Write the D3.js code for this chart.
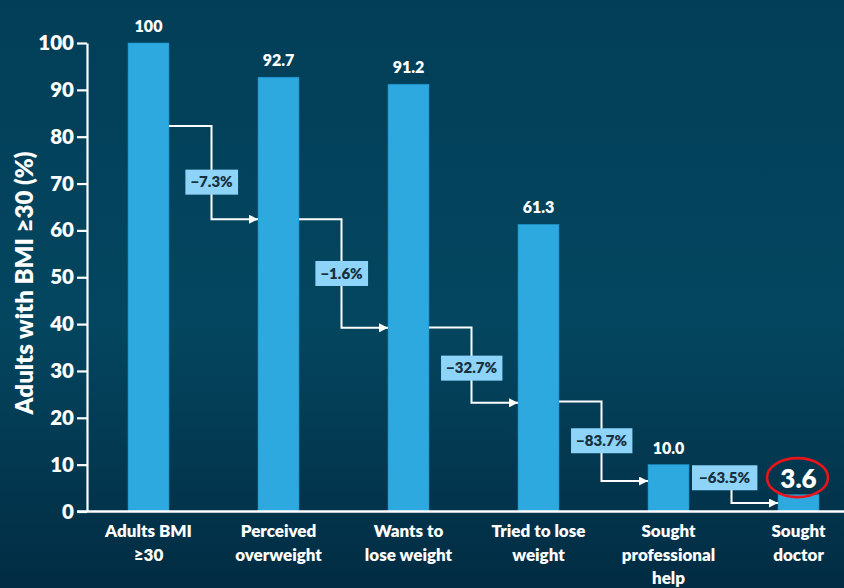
<!DOCTYPE html>
<html>
<head>
<meta charset="utf-8">
<script src="https://cdn.jsdelivr.net/npm/d3@7"></script>
<style>
  html, body { margin: 0; padding: 0; background: #033f59; }
  svg { display: block; }
  text { font-family: Lato, "Open Sans", sans-serif; font-weight: 800; }
</style>
</head>
<body>
<script>

// Categories (one entry per line of the axis label)
const categories = [
    ["Adults BMI", "≥30"],
    ["Perceived", "overweight"],
    ["Wants to", "lose weight"],
    ["Tried to lose", "weight"],
    ["Sought", "professional", "help"],
    ["Sought", "doctor"]
];

// Share of adults with BMI >= 30 (%)
const values = [100, 92.7, 91.2, 61.3, 10.0, 3.6];
const valueLabels = ["100", "92.7", "91.2", "61.3", "10.0", "3.6"];

// Relative change between consecutive steps
const changes = ["\u22127.3%", "\u22121.6%", "\u221232.7%", "\u221283.7%", "\u221263.5%"];

// Step connector levels (in % units) : start and end of each drop
const stepStart = [82.3, 62.4, 39.3, 23.5, 7.2];
const stepEnd = [62.4, 39.2, 23.2, 6.5, 1.8];
const stepLabel = [70.3, 50.8, 30.6, 15.1, 7.2];

const yTicks = [0, 10, 20, 30, 40, 50, 60, 70, 80, 90, 100];

const width = 844, height = 588;

const svg = d3.select("body").append("svg")
    .attr("width", width)
    .attr("height", height);

// Background gradient
const defs = svg.append("defs");
const grad = defs.append("linearGradient")
    .attr("id", "bg")
    .attr("x1", 0).attr("y1", 0).attr("x2", 0).attr("y2", 1);
grad.append("stop").attr("offset", "0%").attr("stop-color", "#023e58");
grad.append("stop").attr("offset", "55%").attr("stop-color", "#04465f");
grad.append("stop").attr("offset", "100%").attr("stop-color", "#012c43");

defs.append("marker")
    .attr("id", "arrow")
    .attr("viewBox", "0 0 10 10")
    .attr("refX", 10).attr("refY", 5)
    .attr("markerWidth", 4.5).attr("markerHeight", 4.5)
    .attr("markerUnits", "strokeWidth")
    .attr("orient", "auto")
    .append("path")
    .attr("d", "M0,0L10,5L0,10Z")
    .attr("fill", "#ffffff");

svg.append("rect")
    .attr("width", width)
    .attr("height", height)
    .attr("fill", "url(#bg)");

// Scales
const x = d3.scaleBand()
    .domain(d3.range(values.length))
    .range([83.5, 863.5])
    .paddingInner(0.685)
    .paddingOuter(0.3425);

const y = d3.scaleLinear()
    .domain([0, 100])
    .range([511.5, 43]);

// Bars
svg.append("g").selectAll("rect")
    .data(values).enter()
    .append("rect")
    .attr("x", (d, i) => x(i))
    .attr("y", d => y(d))
    .attr("width", x.bandwidth())
    .attr("height", d => y(0) - y(d))
    .attr("fill", "#2ea9e0")
    .attr("stroke", "#1b8fc4")
    .attr("stroke-width", 0.6);

// Y axis
const yAxis = svg.append("g")
    .attr("transform", "translate(87,0)")
    .call(d3.axisLeft(y)
        .tickValues(yTicks)
        .tickSize(10)
        .tickSizeOuter(0)
        .tickPadding(3));

yAxis.select(".domain").attr("stroke", "#fff").attr("stroke-width", 2.2);
yAxis.selectAll(".tick line").attr("stroke", "#fff").attr("stroke-width", 2.2);
yAxis.selectAll(".tick text")
    .attr("fill", "#fff")
    .style("font-size", "20.5px")
    .style("font-family", "Lato, 'Open Sans', sans-serif")
    .style("font-weight", 800);

// X axis baseline
svg.append("line")
    .attr("x1", 77).attr("x2", width)
    .attr("y1", y(0)).attr("y2", y(0))
    .attr("stroke", "#fff")
    .attr("stroke-width", 2.6);

// Y axis title
svg.append("text")
    .attr("transform", "translate(33,283)rotate(-90)")
    .attr("text-anchor", "middle")
    .attr("fill", "#fff")
    .style("font-size", "24px")
    .text("Adults with BMI ≥30 (%)");

// Category labels
const catG = svg.append("g").selectAll("text")
    .data(categories).enter()
    .append("text")
    .attr("text-anchor", "middle")
    .attr("fill", "#fff")
    .style("font-size", "17px")
    .attr("transform", (d, i) => "translate(" + (x(i) + x.bandwidth() / 2) + ",537)");

catG.selectAll("tspan")
    .data(d => d).enter()
    .append("tspan")
    .attr("x", 0)
    .attr("y", (d, j) => j * 23.5)
    .text(d => d);

// Value labels
svg.append("g").selectAll("text")
    .data(values).enter()
    .append("text")
    .attr("text-anchor", "middle")
    .attr("x", (d, i) => x(i) + x.bandwidth() / 2)
    .attr("y", (d, i) => i === values.length - 1 ? y(d) - 7 : y(d) - 11)
    .attr("fill", "#fff")
    .style("font-size", (d, i) => i === values.length - 1 ? "26px" : "16px")
    .text((d, i) => valueLabels[i]);

// Red ring around the last value
const last = values.length - 1;
svg.append("ellipse")
    .attr("cx", x(last) + x.bandwidth() / 2 - 1)
    .attr("cy", y(values[last]) - 17)
    .attr("rx", 30.5)
    .attr("ry", 19.5)
    .attr("fill", "none")
    .attr("stroke", "#e8141c")
    .attr("stroke-width", 2.6);

// Step connectors
const conn = svg.append("g");

changes.forEach(function(label, i) {
    let x0 = x(i) + x.bandwidth();
    let x1 = x(i + 1);
    let xm = (x0 + x1) / 2 - 2;
    let isLast = i === changes.length - 1;

    let pts = isLast
        ? [[xm, y(stepStart[i])], [xm, y(stepEnd[i])], [x1, y(stepEnd[i])]]
        : [[x0, y(stepStart[i])], [xm, y(stepStart[i])], [xm, y(stepEnd[i])], [x1, y(stepEnd[i])]];

    conn.append("path")
        .attr("d", d3.line()(pts))
        .attr("fill", "none")
        .attr("stroke", "#fff")
        .attr("stroke-width", 2)
        .attr("marker-end", "url(#arrow)");

    let g = conn.append("g")
        .attr("transform", "translate(" + (isLast ? (x0 + 35.5) : xm) + "," + y(stepLabel[i]) + ")");

    let box = g.append("rect").attr("fill", "#8ed4f8");
    let t = g.append("text")
        .attr("text-anchor", "middle")
        .attr("dy", "0.35em")
        .attr("fill", "#16303d")
        .style("font-size", "15px")
        .text(label);

    let bb = t.node().getBBox();
    let padX = isLast ? 7 : 5;
    box.attr("x", bb.x - padX)
        .attr("width", bb.width + padX * 2)
        .attr("y", -12.5)
        .attr("height", 25);
});

</script>
</body>
</html>
